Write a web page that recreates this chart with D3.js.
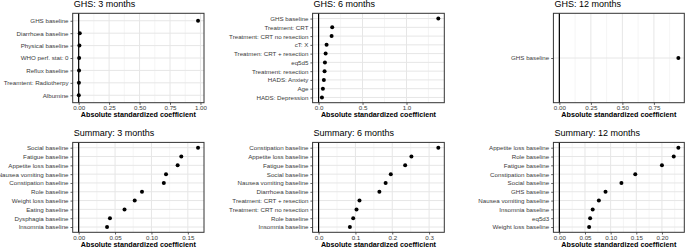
<!DOCTYPE html>
<html>
<head>
<meta charset="utf-8">
<script src="https://cdn.jsdelivr.net/npm/d3@7"></script>
<style>
  body { margin: 0; background: #fff; }
  svg { display: block; font-family: "Liberation Sans", Arial, sans-serif; }
</style>
</head>
<body>
<div id="chart"></div>
<script>
// values, top row of each panel first
var ghs3Labels = ["GHS baseline", "Diarrhoea baseline", "Physical baseline", "WHO perf. stat: 0",
    "Reflux baseline", "Treamtent: Radiotherpy", "Albumine"]
var ghs3Values = [0.98, 0.009, 0.006, 0.004, 0.003, 0.002, 0.001]
var ghs3Ticks = [0, 0.25, 0.5, 0.75, 1]

var ghs6Labels = ["GHS baseline", "Treatment: CRT", "Treatment: CRT no resection", "cT: X",
    "Treatmen: CRT + resection", "eq5d5", "Treatment: resection", "HADS: Anxiety", "Age", "HADS: Depression"]
var ghs6Values = [1.362, 0.155, 0.148, 0.091, 0.080, 0.072, 0.068, 0.060, 0.049, 0.038]
var ghs6Ticks = [0, 0.5, 1]

var ghs12Labels = ["GHS baseline"]
var ghs12Values = [0.944]
var ghs12Ticks = [0, 0.25, 0.5, 0.75]

var sum3Labels = ["Social baseline", "Fatigue baseline", "Appetite loss baseline", "Nausea vomiting baseline",
    "Constipation baseline", "Role baseline", "Weight loss baseline", "Eating baseline",
    "Dysphagia baseline", "Insomnia baseline"]
var sum3Values = [0.164, 0.141, 0.136, 0.120, 0.117, 0.087, 0.077, 0.063, 0.043, 0.039]
var sum3Ticks = [0, 0.05, 0.1, 0.15]

var sum6Labels = ["Constipation baseline", "Appetite loss baseline", "Fatigue baseline", "Social baseline",
    "Nausea vomiting baseline", "Diarrhoea baseline", "Treatment: CRT + resection",
    "Treatment: CRT no resection", "Role baseline", "Insomnia baseline"]
var sum6Values = [0.325, 0.252, 0.235, 0.196, 0.182, 0.165, 0.111, 0.103, 0.094, 0.085]
var sum6Ticks = [0, 0.1, 0.2, 0.3]

var sum12Labels = ["Appetite loss baseline", "Role baseline", "Fatigue baseline", "Constipation baseline",
    "Social baseline", "GHS baseline", "Nausea vomiting baseline", "Insomnia baseline", "eq5d3",
    "Weight loss baseline"]
var sum12Values = [0.232, 0.223, 0.200, 0.148, 0.121, 0.090, 0.077, 0.065, 0.060, 0.058]
var sum12Ticks = [0, 0.05, 0.1, 0.15, 0.2]

var xTitle = "Absolute standardized coefficient"

var width = 685, height = 250

// panel boxes (plot area) for the 3x2 grid
var cols = [[72.7, 204], [312.6, 444.3], [553.4, 684.3]]
var rows = [[13.3, 102.7], [142.4, 232.3]]

var panels = [
    {title: "GHS: 3 months", labels: ghs3Labels, values: ghs3Values, ticks: ghs3Ticks, fmt: ".2f", c: 0, r: 0},
    {title: "GHS: 6 months", labels: ghs6Labels, values: ghs6Values, ticks: ghs6Ticks, fmt: ".1f", c: 1, r: 0},
    {title: "GHS: 12 months", labels: ghs12Labels, values: ghs12Values, ticks: ghs12Ticks, fmt: ".2f", c: 2, r: 0},
    {title: "Summary: 3 months", labels: sum3Labels, values: sum3Values, ticks: sum3Ticks, fmt: ".2f", c: 0, r: 1},
    {title: "Summary: 6 months", labels: sum6Labels, values: sum6Values, ticks: sum6Ticks, fmt: ".1f", c: 1, r: 1},
    {title: "Summary: 12 months", labels: sum12Labels, values: sum12Values, ticks: sum12Ticks, fmt: ".2f", c: 2, r: 1}
]

var svg = d3.select('#chart')
    .append('svg')
    .attr('width', width)
    .attr('height', height)

svg.append('rect').attr('width', width).attr('height', height).attr('fill', '#fff')

function drawPanel(p) {
    var x0 = cols[p.c][0], x1 = cols[p.c][1]
    var y0 = rows[p.r][0], y1 = rows[p.r][1]

    // ggplot style: range includes 0 (vline), 5% expansion
    var lo = Math.min(0, d3.min(p.values)), hi = Math.max(0, d3.max(p.values))
    var pad = (hi - lo) * 0.05
    var x = d3.scaleLinear().domain([lo - pad, hi + pad]).range([x0, x1])
    var y = d3.scalePoint().domain(p.labels).range([y0, y1]).padding(0.6)

    var g = svg.append('g')

    // minor breaks: midpoints between majors, plus one beyond each end if it fits
    var step = p.ticks[1] - p.ticks[0]
    var minor = []
    for (var v = p.ticks[0] - step / 2; v < x.domain()[1]; v += step) {
        if (v > x.domain()[0]) minor.push(v)
    }

    g.selectAll('.minor').data(minor).enter().append('line')
        .attr('x1', d => x(d)).attr('x2', d => x(d))
        .attr('y1', y0).attr('y2', y1)
        .attr('stroke', '#efefef').attr('stroke-width', 0.6)

    g.selectAll('.major').data(p.ticks).enter().append('line')
        .attr('x1', d => x(d)).attr('x2', d => x(d))
        .attr('y1', y0).attr('y2', y1)
        .attr('stroke', '#e6e6e6').attr('stroke-width', 1)

    g.selectAll('.hgrid').data(p.labels).enter().append('line')
        .attr('x1', x0).attr('x2', x1)
        .attr('y1', d => y(d)).attr('y2', d => y(d))
        .attr('stroke', '#e6e6e6').attr('stroke-width', 1)

    // zero line
    g.append('line')
        .attr('x1', x(0)).attr('x2', x(0))
        .attr('y1', y0).attr('y2', y1)
        .attr('stroke', '#000').attr('stroke-width', 1.2)

    g.selectAll('circle').data(p.values).enter().append('circle')
        .attr('cx', d => x(d))
        .attr('cy', (d, i) => y(p.labels[i]))
        .attr('r', 2)
        .attr('fill', '#000')

    g.append('rect')
        .attr('x', x0).attr('y', y0)
        .attr('width', x1 - x0).attr('height', y1 - y0)
        .attr('fill', 'none').attr('stroke', '#333').attr('stroke-width', 1)

    var xAxis = g.append('g')
        .attr('transform', 'translate(0,' + y1 + ')')
        .call(d3.axisBottom(x).tickValues(p.ticks).tickFormat(d3.format(p.fmt)).tickSize(2.2).tickPadding(0.8))
    var yAxis = g.append('g')
        .attr('transform', 'translate(' + x0 + ',0)')
        .call(d3.axisLeft(y).tickSize(2.2).tickPadding(2))

    ;[xAxis, yAxis].forEach(function(a) {
        a.select('.domain').remove()
        a.selectAll('line').attr('stroke', '#333').attr('stroke-width', 0.8)
        a.selectAll('text').attr('fill', '#3a3a3a').style('font-size', '6.2px')
    })

    g.append('text')
        .attr('x', x0 + 1)
        .attr('y', y0 - 6)
        .attr('fill', '#000')
        .style('font-size', '9px')
        .text(p.title)

    g.append('text')
        .attr('x', (x0 + x1) / 2)
        .attr('y', y1 + 14.5)
        .attr('text-anchor', 'middle')
        .attr('fill', '#000')
        .style('font-size', '7.2px')
        .style('font-weight', 'bold')
        .text(xTitle)
}

panels.forEach(drawPanel)
</script>
</body>
</html>
